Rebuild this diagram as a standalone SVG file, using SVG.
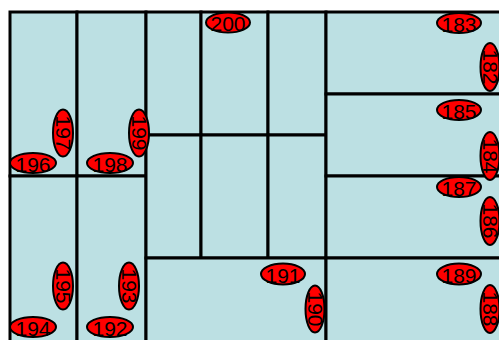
<svg xmlns="http://www.w3.org/2000/svg" width="499" height="340" viewBox="0 0 499 340">
<style>
.cell{fill:#bce0e3;stroke:#000;stroke-width:3}
.lbl ellipse{fill:#ff0000;stroke:#000;stroke-width:2}
.lbl text{font-family:"Liberation Sans",Arial,sans-serif;font-size:21px;fill:#000;text-anchor:middle;dominant-baseline:central}
</style>
<rect x="0" y="0" width="499" height="340" fill="#fff"/>
<g id="cells">
<g id="cell-a"><rect class="cell" x="10" y="12" width="67" height="164"/></g>
<g id="cell-b"><rect class="cell" x="77" y="12" width="69" height="164"/></g>
<g id="cell-c"><rect class="cell" x="10" y="176" width="67" height="170"/></g>
<g id="cell-d"><rect class="cell" x="77" y="176" width="69" height="170"/></g>
<g id="cell-e"><rect class="cell" x="146" y="12" width="55" height="123"/></g>
<g id="cell-f"><rect class="cell" x="201" y="12" width="67" height="123"/></g>
<g id="cell-g"><rect class="cell" x="268" y="12" width="58" height="123"/></g>
<g id="cell-h"><rect class="cell" x="146" y="135" width="55" height="123"/></g>
<g id="cell-i"><rect class="cell" x="201" y="135" width="67" height="123"/></g>
<g id="cell-j"><rect class="cell" x="268" y="135" width="58" height="123"/></g>
<g id="cell-k"><rect class="cell" x="146" y="258" width="180" height="90"/></g>
<g id="cell-l"><rect class="cell" x="326" y="12" width="185" height="82"/></g>
<g id="cell-m"><rect class="cell" x="326" y="94" width="185" height="82"/></g>
<g id="cell-n"><rect class="cell" x="326" y="176" width="185" height="82"/></g>
<g id="cell-o"><rect class="cell" x="326" y="258" width="185" height="90"/></g>
</g>
<g id="connectors"></g>
<g id="n196" class="lbl"><ellipse cx="33" cy="163" rx="23" ry="10"/><text x="33" y="164">196</text></g>
<g id="n197" class="lbl"><ellipse cx="63" cy="133" rx="10" ry="23.5"/><text x="63" y="133" transform="rotate(90 63 133)">197</text></g>
<g id="n198" class="lbl"><ellipse cx="110" cy="163" rx="23" ry="10"/><text x="110" y="164">198</text></g>
<g id="n199" class="lbl"><ellipse cx="139" cy="133" rx="10" ry="23.5"/><text x="139" y="133" transform="rotate(90 139 133)">199</text></g>
<g id="n194" class="lbl"><ellipse cx="33" cy="327" rx="23" ry="10"/><text x="33" y="328">194</text></g>
<g id="n195" class="lbl"><ellipse cx="63" cy="286" rx="10" ry="23.5"/><text x="63" y="286" transform="rotate(90 63 286)">195</text></g>
<g id="n192" class="lbl"><ellipse cx="110" cy="327" rx="23" ry="10"/><text x="110" y="328">192</text></g>
<g id="n193" class="lbl"><ellipse cx="129" cy="286" rx="10" ry="23.5"/><text x="129" y="286" transform="rotate(90 129 286)">193</text></g>
<g id="n200" class="lbl"><ellipse cx="228" cy="22.5" rx="22" ry="10"/><text x="228" y="23.5">200</text></g>
<g id="n191" class="lbl"><ellipse cx="283" cy="274" rx="22" ry="10.5"/><text x="283" y="275">191</text></g>
<g id="n190" class="lbl"><ellipse cx="315" cy="309" rx="9.5" ry="23.5"/><text x="315" y="309" transform="rotate(90 315 309)">190</text></g>
<g id="n183" class="lbl"><ellipse cx="459" cy="23" rx="22" ry="10"/><text x="459" y="24">183</text></g>
<g id="n182" class="lbl"><ellipse cx="490" cy="67" rx="9.5" ry="24"/><text x="490" y="67" transform="rotate(90 490 67)">182</text></g>
<g id="n185" class="lbl"><ellipse cx="459" cy="110" rx="22" ry="10"/><text x="459" y="111">185</text></g>
<g id="n184" class="lbl"><ellipse cx="490" cy="156" rx="9.5" ry="24"/><text x="490" y="156" transform="rotate(90 490 156)">184</text></g>
<g id="n187" class="lbl"><ellipse cx="459" cy="187" rx="22" ry="10"/><text x="459" y="188">187</text></g>
<g id="n186" class="lbl"><ellipse cx="490" cy="221" rx="9.5" ry="24"/><text x="490" y="221" transform="rotate(90 490 221)">186</text></g>
<g id="n189" class="lbl"><ellipse cx="459" cy="274" rx="22" ry="10.5"/><text x="459" y="275">189</text></g>
<g id="n188" class="lbl"><ellipse cx="490" cy="309" rx="9.5" ry="24"/><text x="490" y="309" transform="rotate(90 490 309)">188</text></g>
</svg>
